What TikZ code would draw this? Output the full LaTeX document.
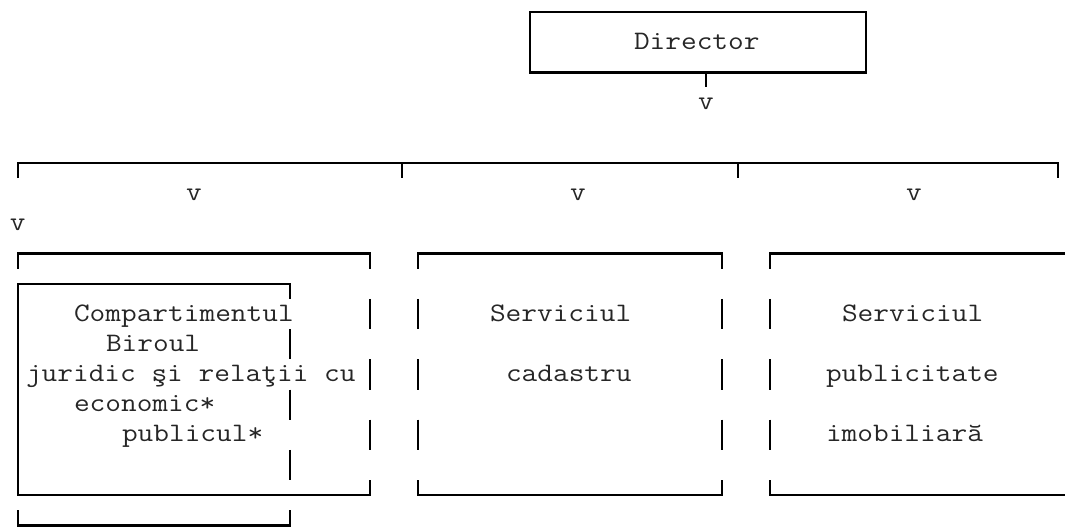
\documentclass[tikz,border=0pt]{standalone}
\tikzset{
  boxline/.style={line width=2.4pt, black, line join=miter},
  asc/.style={anchor=base west, inner sep=0pt, outer sep=0pt,
    font=\ttfamily\fontsize{26.67}{30}\selectfont,
    xscale=1.142857, transform shape, text=black!85},
}
\begin{document}
\begin{tikzpicture}[x=16pt,y=-30.2pt]
\useasboundingbox (-1.125,-0.39735) rectangle (65.4375,17.05298);
% Director box
\draw[boxline] (32,0) rectangle (53,2);
\draw[boxline] (43,2) -- (43,2.5);
\node[asc] (dir) at (38.5,1.2318) {Director};
\node[asc] (vd) at (42.5,3.2318) {v};
% long distribution line
\draw[boxline] (0,5.5) -- (0,5) -- (65,5) -- (65,5.5);
\draw[boxline] (24,5) -- (24,5.5);
\draw[boxline] (45,5) -- (45,5.5);
\node[asc] (va) at (10.5,6.2318) {v};
\node[asc] (vb) at (34.5,6.2318) {v};
\node[asc] (vc) at (55.5,6.2318) {v};
\node[asc] (ve) at (-0.5,7.2318) {v};
% left outer box
\draw[boxline] (0,8.5) -- (0,8) -- (22,8) -- (22,8.5);
\foreach \r in {10,12,14} \draw[boxline] (22,\r-0.5) -- (22,\r+0.5);
\draw[boxline] (17,9.5) -- (17,9) -- (0,9) -- (0,16) -- (22,16) -- (22,15.5);
\foreach \r in {11,13,15} \draw[boxline] (17,\r-0.5) -- (17,\r+0.5);
\draw[boxline] (0,16.5) -- (0,17) -- (17,17) -- (17,16.5);
% middle box
\draw[boxline] (25,8.5) -- (25,8) -- (44,8) -- (44,8.5);
\foreach \r in {10,12,14} {\draw[boxline] (25,\r-0.5) -- (25,\r+0.5);
  \draw[boxline] (44,\r-0.5) -- (44,\r+0.5);}
\draw[boxline] (25,15.5) -- (25,16) -- (44,16) -- (44,15.5);
% right box
\draw[boxline] (47,8.5) -- (47,8) -- (65.5,8);
\foreach \r in {10,12,14} \draw[boxline] (47,\r-0.5) -- (47,\r+0.5);
\draw[boxline] (47,15.5) -- (47,16) -- (65.5,16);
% texts
\node[asc] (t1) at (3.5,10.2318) {Compartimentul};
\node[asc] (t2) at (5.5,11.2318) {Biroul};
\node[asc] (t3) at (0.5,12.2318) {juridic şi relaţii cu};
\node[asc] (t4) at (3.5,13.2318) {economic*};
\node[asc] (t5) at (6.5,14.2318) {publicul*};
\node[asc] (m1) at (29.5,10.2318) {Serviciul};
\node[asc] (m2) at (30.5,12.2318) {cadastru};
\node[asc] (r1) at (51.5,10.2318) {Serviciul};
\node[asc] (r2) at (50.5,12.2318) {publicitate};
\node[asc] (r3) at (50.5,14.2318) {imobiliară};
\end{tikzpicture}
\end{document}
